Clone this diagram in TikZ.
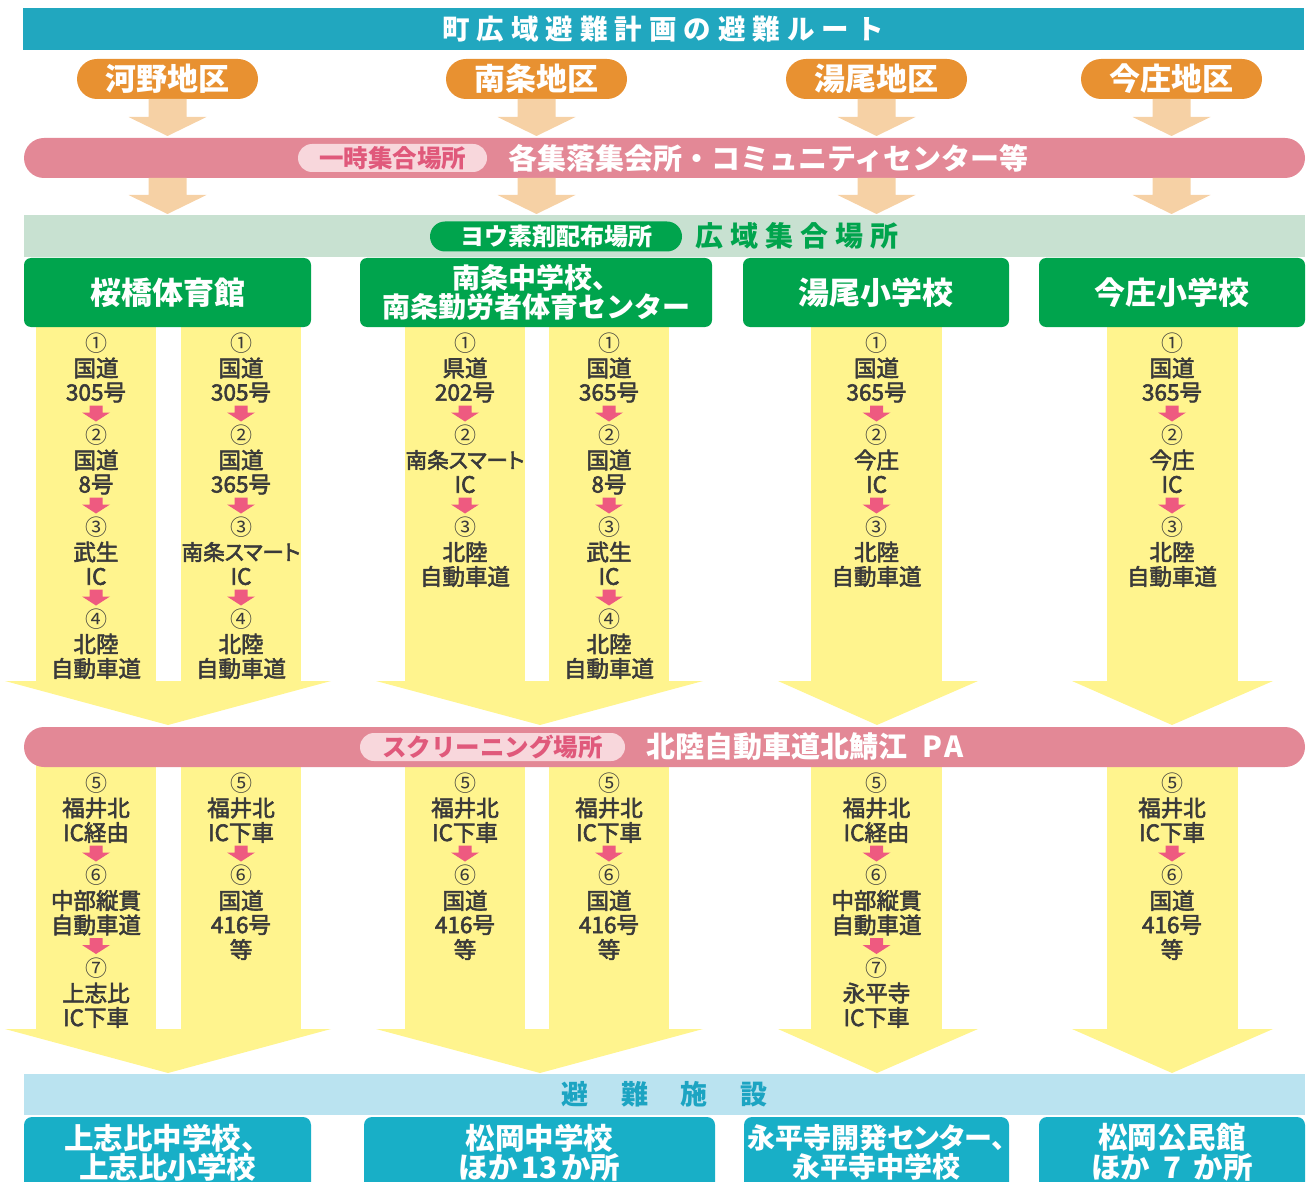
\documentclass[tikz,border=0pt]{standalone}
\usepackage{fontspec}
\setmainfont{Noto Sans CJK JP}
\newfontfamily\jpp{Noto Sans CJK JP}[RawFeature=+palt]
\newfontfamily\jpm{Noto Sans CJK JP}[FakeBold=2.5]
\newfontfamily\jpmp{Noto Sans CJK JP}[FakeBold=2.5,RawFeature=+palt]
\usetikzlibrary{calc}
\definecolor{titleteal}{HTML}{21A7BF}
\definecolor{distorange}{HTML}{E89131}
\definecolor{lightorange}{HTML}{F6D1A5}
\definecolor{bandpink}{HTML}{E38896}
\definecolor{pillpink}{HTML}{F8D7DC}
\definecolor{pinktext}{HTML}{E0597B}
\definecolor{bandgreen}{HTML}{C8E1D1}
\definecolor{boxgreen}{HTML}{00A44D}
\definecolor{yel}{HTML}{FFF48E}
\definecolor{txtgray}{HTML}{3A3A3A}
\definecolor{arrowpink}{HTML}{EE5A80}
\definecolor{bandblue}{HTML}{BAE3F0}
\definecolor{bluetext}{HTML}{1CA4C2}
\definecolor{boxteal}{HTML}{18AFC7}
\makeatletter
\newcommand\spc[2]{\def\spc@k{#1}\@tfor\spc@c:=#2\do{\spc@c\kern\spc@k}\unkern}
\makeatother
\newcommand\fs[1]{\fontsize{#1}{#1}\selectfont}
\tikzset{
 every node/.style={inner sep=0pt, outer sep=0pt},
 titlebar/.style={fill=titleteal, minimum width=1281pt, minimum height=42pt, text=white, font=\bfseries\fs{27.5}},
 distpill/.style={fill=distorange, rounded corners=20pt, minimum width=181pt, minimum height=40pt, text=white, font=\bfseries\fs{31}},
 pinkband/.style={fill=bandpink, rounded corners=20pt, minimum width=1281pt, minimum height=40pt},
 innerpink/.style={fill=pillpink, rounded corners=14pt, minimum height=28pt, text=pinktext, font=\bfseries\fs{24.5}},
 bandtext/.style={text=white, font=\bfseries\fs{29}, anchor=west},
 greenband/.style={fill=bandgreen, minimum width=1281pt, minimum height=42pt},
 innergreen/.style={fill=boxgreen, rounded corners=15pt, minimum width=252pt, minimum height=30pt, text=white, font=\bfseries\fs{24}},
 greenbox/.style={fill=boxgreen, rounded corners=7pt, minimum height=69pt, text=white, font=\bfseries\fs{31}, align=center},
 coltext/.style={text=txtgray, font=\jpm\fs{22.5}},
 numtext/.style={text=txtgray, font=\fs{22}},
 oarr/.style={fill=lightorange},
 yarr/.style={fill=yel},
 parr/.style={fill=arrowpink},
 blueband/.style={fill=bandblue, minimum width=1281pt, minimum height=41pt, text=bluetext, font=\bfseries\fs{27}},
 tealbox/.style={fill=boxteal, rounded corners=8pt, minimum height=100pt},
 tealtext/.style={text=white, font=\bfseries\fs{29.5}, align=center},
}
\newcommand\blk[6]{%
 \node[numtext] (#1n) at (#2,#3) {#4};
 \node[coltext] (#1a) at (#2,{#3+25}) {#5};
 \node[coltext] (#1b) at (#2,{#3+49.5}) {#6};}
\newcommand\parrow[1]{%
 \fill[parr] ($(#1.center)+(-6.5,13)$) -- ++(13,0) -- ++(0,7) -- ++(7.5,0) -- ++(-14,9) -- ++(-14,-9) -- ++(7.5,0) -- cycle;}
\newcommand\oarrow[3]{%
 \fill[oarr] ($(#1)+(-19,0)$) -- ++(38,0) -- ++(0,#2) -- ++(20,0) -- ++(-39,{#3-#2}) -- ++(-39,{#2-#3}) -- ++(20,0) -- cycle;}
\newcommand\jpb[1]{{\jpmp\fs{21.5}#1}}
\begin{document}
\begin{tikzpicture}[x=1pt,y=-1pt]
\useasboundingbox (0,0) rectangle (1309,1182);
\clip (0,0) rectangle (1309,1182);
% title
\node[titlebar] (title) at (663,29) {\spc{7pt}{町広域避難計画の避難ルート}};
% districts
\node[distpill] (d1) at (167.5,79) {河野地区};
\node[distpill] (d2) at (536.5,79) {南条地区};
\node[distpill] (d3) at (876.5,79) {湯尾地区};
\node[distpill] (d4) at (1171.5,79) {今庄地区};
% pink band 1
\node[pinkband] (pb1) at (664.5,158) {};
\node[innerpink, minimum width=189pt] (pp1) at (392.5,158) {一時集合場所};
\node[bandtext] (pb1t) at (508,158) {各集落集会所・コミュニティセンター等};
\foreach \d in {d1,d2,d3,d4}{\oarrow{\d.south}{18}{37}}
\foreach \d in {d1,d2,d3,d4}{\coordinate (o\d) at (pb1.south -| \d.south); \oarrow{o\d}{17}{36}}
% green band
\node[greenband] (gb) at (664.5,236) {};
\node[innergreen] (gp) at (556,236.5) {ヨウ素剤配布場所};
\node[anchor=west, text=boxgreen, font=\bfseries\fs{28}] (gbt) at (695,236) {\spc{7pt}{広域集合場所}};
% yellow upper
\fill[yarr] (36,320) rectangle (156,682);
\fill[yarr] (181,320) rectangle (301,682);
\fill[yarr] (5,681) -- (331,681) -- (168,725) -- cycle;
\fill[yarr] (405,320) rectangle (525,682);
\fill[yarr] (549,320) rectangle (669,682);
\fill[yarr] (376,681) -- (703,681) -- (540,725) -- cycle;
\fill[yarr] (811,320) rectangle (942,682);
\fill[yarr] (778,681) -- (978,681) -- (877,725) -- cycle;
\fill[yarr] (1107,320) rectangle (1238,682);
\fill[yarr] (1072,681) -- (1273,681) -- (1172,725) -- cycle;
% yellow lower
\fill[yarr] (36,760) rectangle (156,1030);
\fill[yarr] (181,760) rectangle (301,1030);
\fill[yarr] (5,1029) -- (331,1029) -- (168,1073) -- cycle;
\fill[yarr] (405,760) rectangle (525,1030);
\fill[yarr] (549,760) rectangle (669,1030);
\fill[yarr] (376,1029) -- (703,1029) -- (540,1073) -- cycle;
\fill[yarr] (811,760) rectangle (942,1030);
\fill[yarr] (778,1029) -- (978,1029) -- (877,1073) -- cycle;
\fill[yarr] (1107,760) rectangle (1238,1030);
\fill[yarr] (1072,1029) -- (1273,1029) -- (1172,1073) -- cycle;
% green boxes
\node[greenbox, minimum width=287pt] (g1) at (167.5,292.5) {桜橋体育館};
\node[greenbox, minimum width=352pt, font=\bfseries\fontsize{28}{29}\selectfont] (g2) at (536,292.5) {南条中学校、\\南条勤労者体育センター};
\node[greenbox, minimum width=266pt] (g3) at (876,292.5) {湯尾小学校};
\node[greenbox, minimum width=266pt] (g4) at (1172,292.5) {今庄小学校};
% upper routes
\blk{ua1}{96}{343}{①}{国道}{305号}\parrow{ua1b}
\blk{ua2}{96}{435}{②}{国道}{8号}\parrow{ua2b}
\blk{ua3}{96}{527}{③}{武生}{IC}\parrow{ua3b}
\blk{ua4}{96}{619}{④}{北陸}{自動車道}
\blk{ub1}{241}{343}{①}{国道}{305号}\parrow{ub1b}
\blk{ub2}{241}{435}{②}{国道}{365号}\parrow{ub2b}
\blk{ub3}{241}{527}{③}{\jpb{南条スマート}}{IC}\parrow{ub3b}
\blk{ub4}{241}{619}{④}{北陸}{自動車道}
\blk{uc1}{465}{343}{①}{県道}{202号}\parrow{uc1b}
\blk{uc2}{465}{435}{②}{\jpb{南条スマート}}{IC}\parrow{uc2b}
\blk{uc3}{465}{527}{③}{北陸}{自動車道}
\blk{ud1}{609}{343}{①}{国道}{365号}\parrow{ud1b}
\blk{ud2}{609}{435}{②}{国道}{8号}\parrow{ud2b}
\blk{ud3}{609}{527}{③}{武生}{IC}\parrow{ud3b}
\blk{ud4}{609}{619}{④}{北陸}{自動車道}
\blk{ue1}{876.5}{343}{①}{国道}{365号}\parrow{ue1b}
\blk{ue2}{876.5}{435}{②}{今庄}{IC}\parrow{ue2b}
\blk{ue3}{876.5}{527}{③}{北陸}{自動車道}
\blk{uf1}{1172}{343}{①}{国道}{365号}\parrow{uf1b}
\blk{uf2}{1172}{435}{②}{今庄}{IC}\parrow{uf2b}
\blk{uf3}{1172}{527}{③}{北陸}{自動車道}
% pink band 2
\node[pinkband] (pb2) at (664.5,747) {};
\node[innerpink, minimum width=265pt] (pp2) at (492.5,747) {スクリーニング場所};
\node[bandtext] (pb2t) at (646,747) {北陸自動車道北鯖江\kern15pt P\kern3pt A};
% lower routes
\blk{la1}{96}{783}{⑤}{福井北}{IC経由}\parrow{la1b}
\blk{la2}{96}{875.5}{⑥}{中部縦貫}{自動車道}\parrow{la2b}
\blk{la3}{96}{968}{⑦}{上志比}{IC下車}
\blk{lb1}{241}{783}{⑤}{福井北}{IC下車}\parrow{lb1b}
\blk{lb2}{241}{875.5}{⑥}{国道}{416号}
\node[coltext] (lb2c) at (241,949.5) {等};
\blk{lc1}{465}{783}{⑤}{福井北}{IC下車}\parrow{lc1b}
\blk{lc2}{465}{875.5}{⑥}{国道}{416号}
\node[coltext] (lc2c) at (465,949.5) {等};
\blk{ld1}{609}{783}{⑤}{福井北}{IC下車}\parrow{ld1b}
\blk{ld2}{609}{875.5}{⑥}{国道}{416号}
\node[coltext] (ld2c) at (609,949.5) {等};
\blk{le1}{876.5}{783}{⑤}{福井北}{IC経由}\parrow{le1b}
\blk{le2}{876.5}{875.5}{⑥}{中部縦貫}{自動車道}\parrow{le2b}
\blk{le3}{876.5}{968}{⑦}{永平寺}{IC下車}
\blk{lf1}{1172}{783}{⑤}{福井北}{IC下車}\parrow{lf1b}
\blk{lf2}{1172}{875.5}{⑥}{国道}{416号}
\node[coltext] (lf2c) at (1172,949.5) {等};
% shelters
\node[blueband] (bb) at (664.5,1094.5) {\spc{33pt}{避難施設}};
\node[tealbox, minimum width=287pt] (b1) at (167.5,1167) {};
\node[tealbox, minimum width=351pt] (b2) at (539.5,1167) {};
\node[tealbox, minimum width=265pt] (b3) at (876.5,1167) {};
\node[tealbox, minimum width=266pt] (b4) at (1172,1167) {};
\node[tealtext] (b1t) at (167.5,1152.5) {上志比中学校、\\上志比小学校};
\node[tealtext] (b2t) at (539.5,1152.5) {松岡中学校\\ほか\kern4pt 13\kern4pt か所};
\node[tealtext, font=\jpp\bfseries\fontsize{28}{29.5}\selectfont] (b3t) at (876.5,1152.5) {永平寺開発センター、\\永平寺中学校};
\node[tealtext] (b4t) at (1172,1152.5) {松岡公民館\\ほか\kern13pt 7\kern13pt か所};
\end{tikzpicture}
\end{document}
